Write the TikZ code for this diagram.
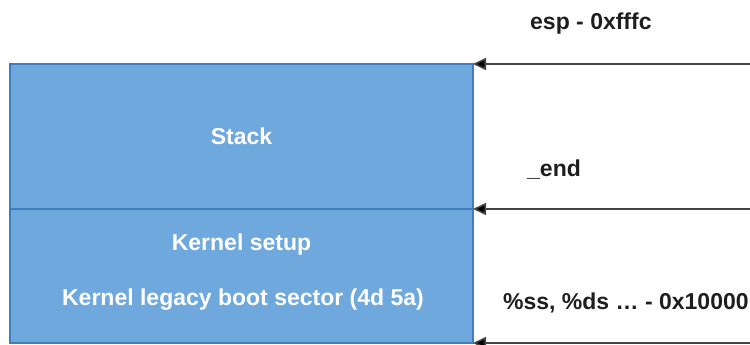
\documentclass[tikz,border=0pt]{standalone}
\usepackage{fontspec}
\setmainfont{Liberation Sans}
\usetikzlibrary{arrows.meta}
\definecolor{boxfill}{HTML}{6FA8DC}
\definecolor{boxline}{HTML}{3F7DC0}
\definecolor{labcol}{HTML}{1E1E1E}
\definecolor{arrcol}{HTML}{444444}
\tikzset{
  seg/.style={draw=boxline, fill=boxfill, line width=2pt, minimum width=463pt, inner sep=0pt, outer sep=0pt, anchor=south west},
  intext/.style={text=white, font=\bfseries\fontsize{23}{27}\selectfont, inner sep=0pt},
  lab/.style={text=labcol, font=\bfseries\fontsize{23}{27}\selectfont, inner sep=0pt, anchor=west},
  ptr/.style={draw=arrcol, line width=1.6pt, -{Triangle[length=13pt,width=12pt,fill=black]}}
}
\begin{document}
\begin{tikzpicture}[x=1pt,y=1pt]
\useasboundingbox (0,0) rectangle (750,345);
\node[seg, minimum height=134pt] (kernel) at (10,2) {};
\node[seg, minimum height=145pt] (stack) at (10,136) {};
\node[intext] (stacktxt) at (stack.center) {Stack};
\node[intext] (ksetup) at (241.5,100) {Kernel setup};
\node[intext] (kboot) at (243,45) {Kernel legacy boot sector (4d 5a)};
\coordinate (r1) at (750,281);
\coordinate (r2) at (750,136);
\coordinate (r3) at (750,2);
\draw[ptr] (r1) -- (stack.north east);
\draw[ptr] (r2) -- (stack.south east);
\draw[ptr] (r3) -- (kernel.south east);
\node[lab] (esp) at (530,321) {esp - 0xfffc};
\node[lab] (endl) at (527,175) {\_end};
\node[lab] (ss) at (503,42) {\%ss, \%ds … - 0x10000};
\end{tikzpicture}
\end{document}
